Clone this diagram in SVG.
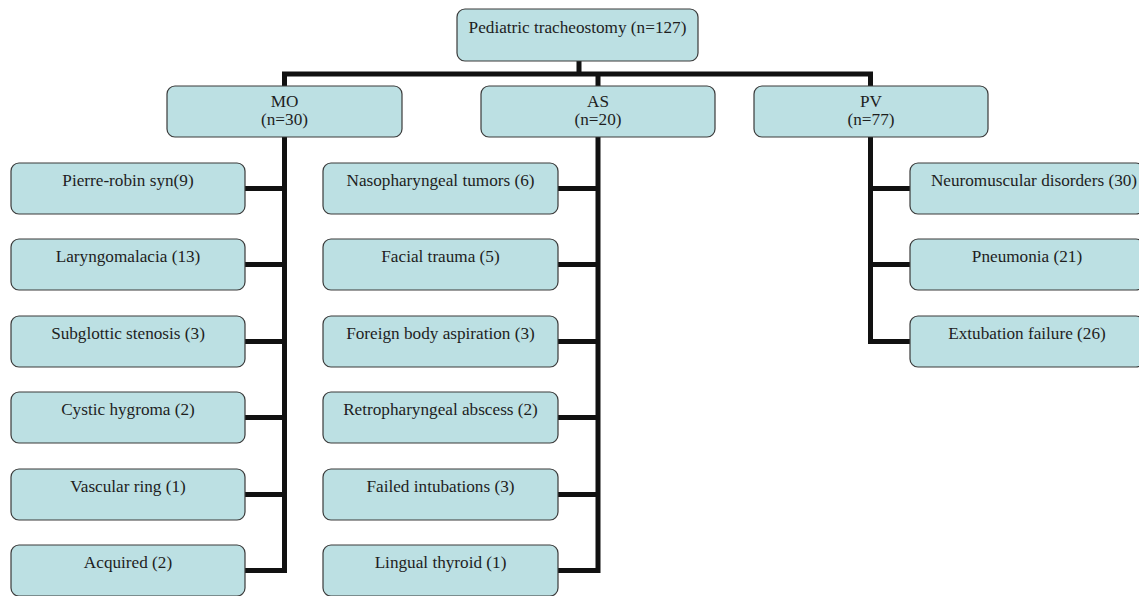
<svg xmlns="http://www.w3.org/2000/svg" width="1139" height="596" viewBox="0 0 1139 596">
<style>
.box{fill:#bce0e3;stroke:#3a3a3a;stroke-width:1.2}
.t{font-family:"Liberation Serif","Times New Roman",serif;font-size:17.2px;fill:#1e1e1e;text-anchor:middle}
.c{fill:none;stroke:#111;stroke-width:5;stroke-linejoin:miter;stroke-linecap:butt}
</style>
<rect width="1139" height="596" fill="#ffffff"/>
<g id="connectors">
<path class="c" d="M579 61V74M284.5 86V74H870.5V86M598 74V86"/>
<path class="c" d="M284.5 137V570.5M245 188.5H284.5M245 264.5H284.5M245 341.5H284.5M245 417.5H284.5M245 494.5H284.5M245 570.5H287"/>
<path class="c" d="M598 137V570.5M558 188.5H598M558 264.5H598M558 341.5H598M558 417.5H598M558 494.5H598M558 570.5H600.5"/>
<path class="c" d="M870.5 137V341.5M870.5 188.5H910M870.5 264.5H910M868 341.5H910"/>
</g>
<g id="root"><rect class="box" x="457" y="9" width="241" height="52" rx="8"/><text class="t" x="577.5" y="33">Pediatric tracheostomy (n=127)</text></g>
<g id="mo"><rect class="box" x="167" y="86" width="235" height="51" rx="8"/><text class="t" x="284.5" y="106.5">MO</text><text class="t" x="284.5" y="124.5">(n=30)</text></g>
<g id="as"><rect class="box" x="481" y="86" width="234" height="51" rx="8"/><text class="t" x="598" y="106.5">AS</text><text class="t" x="598" y="124.5">(n=20)</text></g>
<g id="pv"><rect class="box" x="754" y="86" width="234" height="51" rx="8"/><text class="t" x="871" y="106.5">PV</text><text class="t" x="871" y="124.5">(n=77)</text></g>

<g id="mo1"><rect class="box" x="11" y="163" width="234" height="51" rx="8"/><text class="t" x="128" y="185.5">Pierre-robin syn(9)</text></g>
<g id="mo2"><rect class="box" x="11" y="239" width="234" height="51" rx="8"/><text class="t" x="128" y="261.5">Laryngomalacia (13)</text></g>
<g id="mo3"><rect class="box" x="11" y="316" width="234" height="51" rx="8"/><text class="t" x="128" y="338.5">Subglottic stenosis (3)</text></g>
<g id="mo4"><rect class="box" x="11" y="392" width="234" height="51" rx="8"/><text class="t" x="128" y="414.5">Cystic hygroma (2)</text></g>
<g id="mo5"><rect class="box" x="11" y="469" width="234" height="51" rx="8"/><text class="t" x="128" y="491.5">Vascular ring (1)</text></g>
<g id="mo6"><rect class="box" x="11" y="545" width="234" height="51" rx="8"/><text class="t" x="128" y="567.5">Acquired (2)</text></g>

<g id="as1"><rect class="box" x="323" y="163" width="235" height="51" rx="8"/><text class="t" x="440.5" y="185.5">Nasopharyngeal tumors (6)</text></g>
<g id="as2"><rect class="box" x="323" y="239" width="235" height="51" rx="8"/><text class="t" x="440.5" y="261.5">Facial trauma (5)</text></g>
<g id="as3"><rect class="box" x="323" y="316" width="235" height="51" rx="8"/><text class="t" x="440.5" y="338.5">Foreign body aspiration (3)</text></g>
<g id="as4"><rect class="box" x="323" y="392" width="235" height="51" rx="8"/><text class="t" x="440.5" y="414.5">Retropharyngeal abscess (2)</text></g>
<g id="as5"><rect class="box" x="323" y="469" width="235" height="51" rx="8"/><text class="t" x="440.5" y="491.5">Failed intubations (3)</text></g>
<g id="as6"><rect class="box" x="323" y="545" width="235" height="51" rx="8"/><text class="t" x="440.5" y="567.5">Lingual thyroid (1)</text></g>

<g id="pv1"><rect class="box" x="910" y="163" width="234" height="51" rx="8"/><text class="t" x="1034" y="185.5">Neuromuscular disorders (30)</text></g>
<g id="pv2"><rect class="box" x="910" y="239" width="234" height="51" rx="8"/><text class="t" x="1027" y="261.5">Pneumonia (21)</text></g>
<g id="pv3"><rect class="box" x="910" y="316" width="234" height="51" rx="8"/><text class="t" x="1027" y="338.5">Extubation failure (26)</text></g>
</svg>
